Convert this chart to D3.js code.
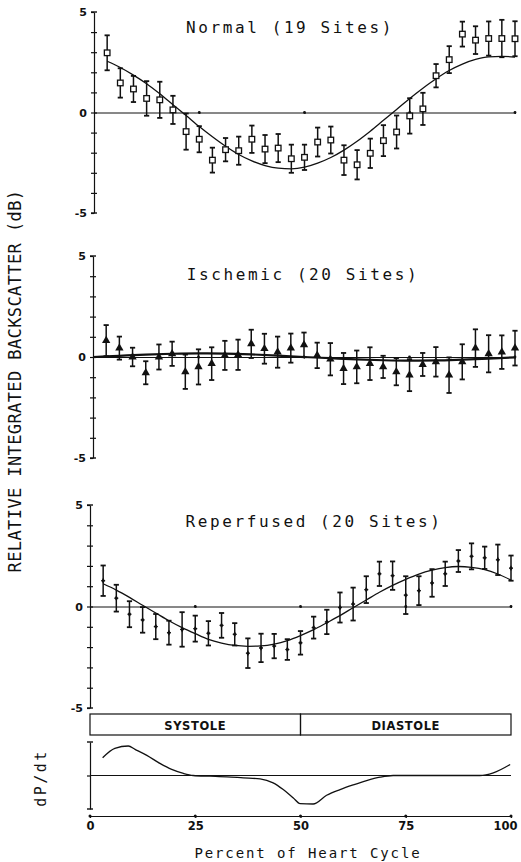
<!DOCTYPE html>
<html>
<head>
<meta charset="utf-8">
<script src="https://cdn.jsdelivr.net/npm/d3@7/dist/d3.min.js"></script>
<style>
  html, body { margin: 0; padding: 0; background: #fff; }
  svg { display: block; }
  .plot-text { font-family: "DejaVu Sans Mono", monospace; fill: #111; }
  .tick-num { font-family: "DejaVu Sans", sans-serif; font-weight: bold; fill: #111; }
</style>
</head>
<body>
<svg id="chart" width="521" height="862"></svg>
<script>
// Percent of heart cycle at which each site average was sampled
const pct = [3.125, 6.25, 9.375, 12.5, 15.625, 18.75, 21.875, 25,
             28.125, 31.25, 34.375, 37.5, 40.625, 43.75, 46.875, 50,
             53.125, 56.25, 59.375, 62.5, 65.625, 68.75, 71.875, 75,
             78.125, 81.25, 84.375, 87.5, 90.625, 93.75, 96.875, 100];

// Normal myocardium (19 sites): mean, standard error, fitted curve (dB)
const normalMean = [2.97, 1.47, 1.17, 0.70, 0.63, 0.13, -0.95, -1.33,
                    -2.37, -1.85, -1.90, -1.33, -1.82, -1.77, -2.30, -2.23,
                    -1.47, -1.37, -2.37, -2.60, -2.03, -1.40, -0.97, -0.17,
                    0.18, 1.83, 2.63, 3.90, 3.60, 3.68, 3.68, 3.67];
const normalErr = [0.87, 0.73, 0.65, 0.86, 0.90, 0.70, 0.90, 0.65,
                   0.62, 0.58, 0.70, 0.68, 0.70, 0.70, 0.70, 0.63,
                   0.72, 0.67, 0.74, 0.73, 0.73, 0.77, 0.82, 0.88,
                   0.80, 0.58, 0.67, 0.62, 0.69, 0.85, 0.93, 0.87];
const normalFit = [2.55, 2.24, 1.86, 1.43, 0.93, 0.39, -0.15, -0.70,
                   -1.21, -1.68, -2.09, -2.41, -2.64, -2.77, -2.80, -2.72,
                   -2.52, -2.24, -1.87, -1.43, -0.93, -0.39, 0.15, 0.70,
                   1.21, 1.68, 2.09, 2.41, 2.64, 2.77, 2.79, 2.76];

// Ischemic myocardium (20 sites)
const ischemicMean = [0.81, 0.44, 0.00, -0.78, 0.00, 0.16, -0.73, -0.49,
                      -0.33, 0.08, 0.11, 0.65, 0.41, 0.24, 0.44, 0.60,
                      0.08, -0.11, -0.57, -0.49, -0.33, -0.49, -0.73, -0.90,
                      -0.37, -0.24, -0.90, -0.24, 0.44, 0.16, 0.24, 0.44];
const ischemicErr = [0.77, 0.57, 0.46, 0.57, 0.62, 0.60, 0.85, 0.87,
                     0.81, 0.72, 0.75, 0.70, 0.74, 0.77, 0.72, 0.61,
                     0.63, 0.80, 0.77, 0.81, 0.81, 0.55, 0.67, 0.79,
                     0.57, 0.73, 0.88, 0.87, 0.93, 0.92, 0.83, 0.86];
const ischemicFitPct = [0, 6.25, 12.5, 18.75, 25, 31.25, 37.5, 43.75, 50,
                        56.25, 62.5, 68.75, 75, 81.25, 87.5, 93.75, 100];
const ischemicFit = [0.00, 0.06, 0.12, 0.16, 0.18, 0.17, 0.13, 0.07, 0.00,
                     -0.06, -0.12, -0.16, -0.18, -0.17, -0.13, -0.08, -0.02];

// Reperfused myocardium (20 sites)
const reperfusedMean = [1.27, 0.41, -0.38, -0.66, -0.99, -1.29, -1.13, -1.09,
                        -1.32, -0.93, -1.37, -2.30, -2.04, -1.95, -2.12, -1.79,
                        -1.04, -0.76, -0.05, 0.12, 0.83, 1.61, 1.52, 0.56,
                        0.78, 1.16, 1.61, 2.24, 2.47, 2.40, 2.30, 1.89];
const reperfusedErr = [0.75, 0.66, 0.64, 0.63, 0.62, 0.59, 0.85, 0.64,
                       0.60, 0.61, 0.55, 0.73, 0.70, 0.60, 0.51, 0.58,
                       0.54, 0.60, 0.74, 0.81, 0.66, 0.60, 0.70, 0.93,
                       0.71, 0.68, 0.60, 0.54, 0.64, 0.55, 0.75, 0.62];
const reperfusedFit = [1.12, 0.81, 0.45, 0.06, -0.32, -0.70, -1.04, -1.34,
                       -1.62, -1.80, -1.92, -1.96, -1.94, -1.85, -1.68, -1.43,
                       -1.14, -0.80, -0.45, -0.06, 0.32, 0.70, 1.04, 1.34,
                       1.60, 1.79, 1.92, 1.97, 1.93, 1.82, 1.60, 1.30];

// Left-ventricular dP/dt trace (arbitrary units, -1 .. 1)
const dpdtPct = [3.0, 5.9, 9.1, 10.7, 13.5, 16.6, 19.4, 22.2, 24.5, 28.5, 32.5,
                 36.4, 40.4, 43.5, 45.9, 48.3, 49.9, 53.0, 56.2, 59.4, 62.5,
                 65.7, 68.9, 72.0, 80.0, 92.6, 95.8, 99.8];
const dpdtVal = [0.53, 0.81, 0.88, 0.78, 0.60, 0.36, 0.18, 0.06, 0.00, -0.02, -0.04,
                 -0.07, -0.10, -0.22, -0.42, -0.67, -0.84, -0.85, -0.59, -0.42, -0.28,
                 -0.15, -0.05, 0.00, 0.00, 0.00, 0.08, 0.33];

const xTicks = [0, 25, 50, 75, 100];
const yLabelTicks = [5, 0, -5];
const panelTitles = ["Normal (19 Sites)", "Ischemic (20 Sites)", "Reperfused (20 Sites)"];
const phaseNames = ["SYSTOLE", "DIASTOLE"];
const phaseBounds = [0, 50, 100];
const yTitle = "RELATIVE INTEGRATED BACKSCATTER (dB)";
const xTitle = "Percent of Heart Cycle";
const dpdtTitle = "dP/dt";

const svg = d3.select("#chart");
const ink = "#111";

function toPoints(xs, ys) { return xs.map((x, i) => [x, ys[i]]); }

function drawPanel(cfg) {
  const g = svg.append("g");
  const x = d3.scaleLinear().domain([0, 100]).range([cfg.x0, cfg.x1]);
  const y = d3.scaleLinear().domain([-5, 5]).range([cfg.yBottom, cfg.yTop]);
  const ints = d3.range(-5, 6);

  // vertical axis with ticks crossing the line
  g.append("g").attr("transform", `translate(${cfg.x0},0)`)
    .call(d3.axisLeft(y).tickValues(ints).tickSizeInner(3).tickSizeOuter(0).tickFormat(""))
    .call(a => a.selectAll("line,path").attr("stroke", ink).attr("stroke-width", 1.2));
  g.append("g").attr("transform", `translate(${cfg.x0},0)`)
    .call(d3.axisRight(y).tickValues(ints.filter(d => Math.abs(d) < 5)).tickSizeInner(3).tickSizeOuter(0).tickFormat(""))
    .call(a => a.select(".domain").remove())
    .call(a => a.selectAll("line").attr("stroke", ink).attr("stroke-width", 1.2));
  // end caps at +5 / -5
  [5, -5].forEach(v => {
    g.append("line").attr("x1", cfg.x0 - 3).attr("x2", cfg.x0 + 3)
      .attr("y1", y(v)).attr("y2", y(v)).attr("stroke", ink).attr("stroke-width", 1.4);
  });
  g.selectAll("text.ylab").data(yLabelTicks).join("text")
    .attr("class", "tick-num")
    .attr("x", cfg.x0 - 7).attr("y", d => y(d) + 4)
    .attr("text-anchor", "end").attr("font-size", 11)
    .text(d => d === -5 ? "-5" : String(d));

  // zero line with small ticks
  g.append("g").attr("transform", `translate(0,${y(0)})`)
    .call(d3.axisBottom(x).tickValues([25, 50, 75, 100]).tickSizeInner(1.5).tickSizeOuter(0).tickFormat(""))
    .call(a => a.selectAll("line,path").attr("stroke", ink).attr("stroke-width", 1));
  g.selectAll("circle.zt").data([25, 50, 75, 100]).join("circle")
    .attr("cx", d => x(d)).attr("cy", y(0)).attr("r", 1.4).attr("fill", ink);

  // fitted curve
  const line = d3.line().x(d => x(d[0])).y(d => y(d[1])).curve(d3.curveMonotoneX);
  g.append("path").datum(toPoints(cfg.fitX, cfg.fit))
    .attr("d", line).attr("fill", "none").attr("stroke", ink).attr("stroke-width", cfg.fitWidth || 1.3);

  // error bars
  const bars = g.append("g").attr("stroke", ink).attr("stroke-width", 1.5);
  pct.forEach((p, i) => {
    const cx = x(p), lo = y(cfg.mean[i] - cfg.err[i]), hi = y(cfg.mean[i] + cfg.err[i]);
    bars.append("line").attr("x1", cx).attr("x2", cx).attr("y1", lo).attr("y2", hi);
    bars.append("line").attr("x1", cx - 2.6).attr("x2", cx + 2.6).attr("y1", lo).attr("y2", lo).attr("stroke-width", 1.8);
    bars.append("line").attr("x1", cx - 2.6).attr("x2", cx + 2.6).attr("y1", hi).attr("y2", hi).attr("stroke-width", 1.8);
  });

  // markers
  const m = g.append("g");
  pct.forEach((p, i) => {
    const cx = x(p), cy = y(cfg.mean[i]);
    if (cfg.marker === "square") {
      m.append("rect").attr("x", cx - 2.8).attr("y", cy - 2.8).attr("width", 5.6).attr("height", 5.6)
        .attr("fill", "#fff").attr("stroke", ink).attr("stroke-width", 1.3);
    } else if (cfg.marker === "triangle") {
      m.append("path").attr("d", d3.symbol(d3.symbolTriangle, 30)())
        .attr("transform", `translate(${cx},${cy})`).attr("fill", ink);
    } else {
      m.append("path").attr("d", d3.symbol(d3.symbolDiamond, 10)())
        .attr("transform", `translate(${cx},${cy})`).attr("fill", ink);
      m.append("line").attr("x1", cx - 2).attr("x2", cx + 2).attr("y1", cy).attr("y2", cy)
        .attr("stroke", ink).attr("stroke-width", 1.2);
    }
  });

  // panel title
  g.append("text").attr("class", "plot-text")
    .attr("x", cfg.titleX).attr("y", cfg.titleY)
    .attr("text-anchor", "middle").attr("font-size", 16).attr("letter-spacing", 2.6)
    .text(cfg.title);
}

drawPanel({ x0: 94, x1: 515, yTop: 12, yBottom: 213, mean: normalMean, err: normalErr,
  fitX: pct, fit: normalFit, marker: "square", title: panelTitles[0], titleX: 290, titleY: 33 });
drawPanel({ x0: 93, x1: 515, yTop: 256, yBottom: 458, mean: ischemicMean, err: ischemicErr,
  fitX: ischemicFitPct, fit: ischemicFit, marker: "triangle", title: panelTitles[1], titleX: 303, titleY: 280, fitWidth: 2.2 });
drawPanel({ x0: 90, x1: 511, yTop: 505, yBottom: 708, mean: reperfusedMean, err: reperfusedErr,
  fitX: pct, fit: reperfusedFit, marker: "diamond", title: panelTitles[2], titleX: 314, titleY: 527 });

// systole / diastole phase bar
const xb = d3.scaleLinear().domain([0, 100]).range([90, 511]);
const phaseG = svg.append("g");
phaseNames.forEach((name, i) => {
  const a = xb(phaseBounds[i]), b = xb(phaseBounds[i + 1]);
  phaseG.append("rect").attr("x", a).attr("y", 714).attr("width", b - a).attr("height", 21)
    .attr("fill", "none").attr("stroke", ink).attr("stroke-width", 1.2);
  phaseG.append("text").attr("class", "tick-num")
    .attr("x", (a + b) / 2).attr("y", 729.5).attr("text-anchor", "middle")
    .attr("font-size", 11.5).attr("letter-spacing", 0.6).text(name);
});

// dP/dt trace
const yd = d3.scaleLinear().domain([-1, 1]).range([809, 742]);
const dg = svg.append("g");
dg.append("g").attr("transform", "translate(90,0)")
  .call(d3.axisLeft(yd).tickValues([0]).tickSizeInner(3).tickSizeOuter(0).tickFormat(""))
  .call(a => a.selectAll("line,path").attr("stroke", ink).attr("stroke-width", 1.2));
[1, -1].forEach(v => {
  dg.append("line").attr("x1", 87).attr("x2", 93).attr("y1", yd(v)).attr("y2", yd(v))
    .attr("stroke", ink).attr("stroke-width", 1.4);
});
dg.append("line").attr("x1", xb(0)).attr("x2", xb(100)).attr("y1", yd(0)).attr("y2", yd(0))
  .attr("stroke", ink).attr("stroke-width", 1.1);
dg.append("path").datum(toPoints(dpdtPct, dpdtVal))
  .attr("d", d3.line().x(d => xb(d[0])).y(d => yd(d[1])).curve(d3.curveMonotoneX))
  .attr("fill", "none").attr("stroke", ink).attr("stroke-width", 1.3);

// percent-of-cycle axis; the last label is nudged left so it stays on the page
svg.append("g").attr("transform", "translate(0,816)")
  .call(d3.axisBottom(xb).tickValues(xTicks).tickSizeInner(2).tickSizeOuter(0).tickPadding(4).tickFormat(d3.format("d")))
  .call(a => a.selectAll("line,path").attr("stroke", ink).attr("stroke-width", 1.2))
  .call(a => a.selectAll("text").attr("class", "tick-num").attr("font-size", 11.5).attr("fill", ink)
    .attr("dx", d => d === 100 ? -6 : 0));
svg.selectAll("circle.bt").data(xTicks).join("circle")
  .attr("cx", d => xb(d)).attr("cy", 816).attr("r", 1.5).attr("fill", ink);

// axis titles
svg.append("text").attr("class", "plot-text")
  .attr("x", 308).attr("y", 858).attr("text-anchor", "middle")
  .attr("font-size", 14).attr("letter-spacing", 1.9).text(xTitle);
svg.append("text").attr("class", "plot-text")
  .attr("transform", "translate(21,381) rotate(-90)").attr("text-anchor", "middle")
  .attr("font-size", 17).attr("letter-spacing", 0.4).text(yTitle);
svg.append("text").attr("class", "plot-text")
  .attr("transform", "translate(46,778) rotate(-90)").attr("text-anchor", "middle")
  .attr("font-size", 15).attr("letter-spacing", 2.5).text(dpdtTitle);
</script>
</body>
</html>
